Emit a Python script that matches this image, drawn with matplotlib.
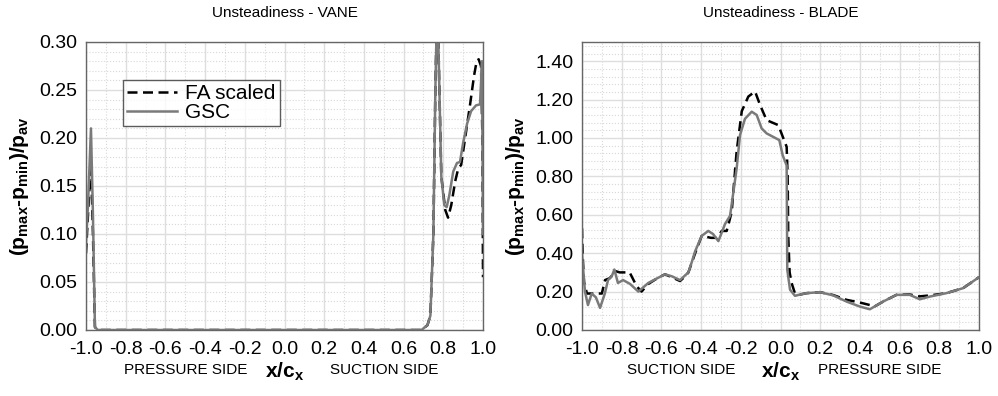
import matplotlib
matplotlib.use("Agg")
import matplotlib.pyplot as plt
from matplotlib.ticker import MultipleLocator

# === data ===
# VANE (left)
vane_gsc_x = [-1.0, -0.99, -0.975, -0.965, -0.955, -0.94, 0.69, 0.72, 0.735, 0.75, 0.76, 0.768,
              0.775, 0.79, 0.805, 0.817, 0.83, 0.85, 0.869, 0.884, 0.9, 0.92, 0.94, 0.965,
              0.985, 0.995, 1.0]
vane_gsc_y = [0.09, 0.13, 0.21, 0.12, 0.003, 0.0, 0.0, 0.005, 0.015, 0.10, 0.25, 0.33,
              0.30, 0.16, 0.13, 0.128, 0.14, 0.165, 0.174, 0.175, 0.195, 0.215, 0.228, 0.234,
              0.235, 0.28, 0.10]
vane_fa_x = [-1.0, -0.99, -0.975, -0.965, -0.955, -0.94, 0.69, 0.72, 0.735, 0.75, 0.76, 0.768,
             0.775, 0.79, 0.81, 0.824, 0.84, 0.86, 0.875, 0.89, 0.91, 0.935, 0.955, 0.968,
             0.978, 0.99, 0.997, 1.0]
vane_fa_y = [0.08, 0.12, 0.175, 0.10, 0.003, 0.0, 0.0, 0.005, 0.015, 0.10, 0.25, 0.33,
             0.30, 0.16, 0.125, 0.117, 0.13, 0.155, 0.168, 0.172, 0.20, 0.235, 0.265, 0.28,
             0.282, 0.275, 0.20, 0.055]

# BLADE (right)
blade_gsc_x = [-1.0, -0.995, -0.985, -0.97, -0.951, -0.93, -0.909, -0.885, -0.869, -0.85,
               -0.837, -0.819, -0.793, -0.758, -0.716, -0.666, -0.62, -0.582, -0.548, -0.506,
               -0.48, -0.464, -0.445, -0.43, -0.397, -0.364, -0.34, -0.313, -0.295, -0.28,
               -0.254, -0.221, -0.204, -0.179, -0.145, -0.12, -0.095, -0.07, -0.006, 0.011,
               0.031, 0.034, 0.048, 0.073, 0.10, 0.132, 0.199, 0.266, 0.333, 0.40, 0.45,
               0.517, 0.584, 0.651, 0.702, 0.752, 0.836, 0.92, 1.0]
blade_gsc_y = [0.40, 0.33, 0.20, 0.13, 0.19, 0.17, 0.115, 0.19, 0.26, 0.28,
               0.315, 0.245, 0.26, 0.24, 0.20, 0.245, 0.27, 0.29, 0.28, 0.26,
               0.285, 0.30, 0.36, 0.41, 0.49, 0.516, 0.50, 0.463, 0.51, 0.551,
               0.595, 0.84, 1.015, 1.10, 1.137, 1.12, 1.05, 1.024, 0.989, 0.91,
               0.857, 0.315, 0.21, 0.178, 0.185, 0.192, 0.197, 0.18, 0.148, 0.122, 0.108,
               0.148, 0.183, 0.183, 0.16, 0.174, 0.192, 0.218, 0.275]
blade_fa_x = [-1.0, -0.997, -0.99, -0.975, -0.95, -0.92, -0.9, -0.884, -0.86, -0.83, -0.81,
              -0.76, -0.724, -0.70, -0.666, -0.62, -0.582, -0.548, -0.506, -0.48, -0.464,
              -0.43, -0.397, -0.35, -0.32, -0.296, -0.271, -0.246, -0.221, -0.195, -0.162,
              -0.128, -0.103, -0.07, -0.011, 0.031, 0.036, 0.039, 0.046, 0.056, 0.073, 0.10,
              0.132, 0.199, 0.266, 0.333, 0.40, 0.45, 0.47, 0.517, 0.584, 0.651, 0.70,
              0.752, 0.836, 0.92, 1.0]
blade_fa_y = [0.53, 0.40, 0.25, 0.19, 0.19, 0.19, 0.19, 0.26, 0.27, 0.306, 0.30,
              0.30, 0.227, 0.20, 0.24, 0.27, 0.29, 0.275, 0.255, 0.28, 0.30,
              0.40, 0.49, 0.48, 0.48, 0.516, 0.516, 0.614, 0.93, 1.14, 1.216,
              1.242, 1.172, 1.093, 1.067, 0.954, 0.80, 0.49, 0.30, 0.245, 0.19, 0.185,
              0.192, 0.197, 0.182, 0.157, 0.143, 0.13, 0.12, 0.148, 0.183, 0.185, 0.175,
              0.18, 0.192, 0.218, 0.275]

x_ticks = [-1.0, -0.8, -0.6, -0.4, -0.2, 0.0, 0.2, 0.4, 0.6, 0.8, 1.0]
blade_y_ticks = [0.0, 0.2, 0.4, 0.6, 0.8, 1.0, 1.2, 1.4]

plt.rcParams['font.family'] = ['Liberation Sans', 'DejaVu Sans']
plt.rcParams['mathtext.fontset'] = 'custom'
plt.rcParams['mathtext.bf'] = 'Liberation Sans:bold'
plt.rcParams['mathtext.rm'] = 'Liberation Sans'

GREY = '#7a7a7a'
YLABEL = r'$\mathbf{(p_{max}}$-$\mathbf{p_{min})/p_{av}}$'

fig = plt.figure(figsize=(9.98, 3.96), dpi=100)
ax1 = fig.add_axes([86/998, 1-330/396, 397/998, 288/396])
ax2 = fig.add_axes([582/998, 1-330/396, 397/998, 288/396])


def style_axes(ax, ymaj, ymin):
	""" grid, spines and tick styling shared by both panels"""
	ax.set_xlim(-1.0, 1.0)
	ax.xaxis.set_major_locator(MultipleLocator(0.2))
	ax.xaxis.set_minor_locator(MultipleLocator(0.1))
	ax.yaxis.set_major_locator(MultipleLocator(ymaj))
	ax.yaxis.set_minor_locator(MultipleLocator(ymin))
	ax.grid(which='major', color='#dedede', linewidth=1.0, linestyle='-')
	ax.grid(which='minor', color='#d8d8d8', linewidth=0.8, linestyle=':')
	ax.set_axisbelow(True)
	for sp in ax.spines.values():
		sp.set_color('#666666')
		sp.set_linewidth(1.0)
	ax.tick_params(which='both', length=0)
	ax.tick_params(axis='y', labelsize=14, pad=6)
	ax.set_xticks(x_ticks)
	ax.set_xticklabels(['%.1f' % t for t in x_ticks], fontsize=14)
	ax.tick_params(axis='x', pad=8)
	ax.yaxis.set_major_formatter('{x:.2f}')
	ax.set_ylabel(YLABEL, fontsize=15, fontweight='bold', labelpad=6)


# --- VANE ---
ax1.plot(vane_fa_x, vane_fa_y, color='black', linestyle=(0, (4, 2.2)), linewidth=1.8, label='FA scaled')
ax1.plot(vane_gsc_x, vane_gsc_y, color=GREY, linewidth=1.8, label='GSC')
ax1.set_ylim(0, 0.30)
style_axes(ax1, 0.05, 0.01)
ax1.set_title('Unsteadiness - VANE', fontsize=11, pad=18)
leg = ax1.legend(loc='upper left', bbox_to_anchor=(0.093, 0.868), borderaxespad=0,
				 fontsize=15, frameon=True, fancybox=False, handlelength=2.4,
				 labelspacing=0.0, borderpad=0.2, handletextpad=0.4)
leg.get_frame().set_edgecolor('#333333')
leg.get_frame().set_linewidth(1.0)

# --- BLADE ---
ax2.plot(blade_fa_x, blade_fa_y, color='black', linestyle=(0, (4, 2.2)), linewidth=1.8)
ax2.plot(blade_gsc_x, blade_gsc_y, color=GREY, linewidth=1.8)
ax2.set_ylim(0, 1.5)
style_axes(ax2, 0.2, 0.04)
ax2.set_yticks(blade_y_ticks)
ax2.set_title('Unsteadiness - BLADE', fontsize=11, pad=18)

# side labels under the axes
for ax, left_txt, right_txt in ((ax1, 'PRESSURE SIDE', 'SUCTION SIDE'), (ax2, 'SUCTION SIDE', 'PRESSURE SIDE')):
	ax.text(0.25, -0.115, left_txt, transform=ax.transAxes, ha='center', va='top', fontsize=11)
	ax.text(0.75, -0.115, right_txt, transform=ax.transAxes, ha='center', va='top', fontsize=11)
	ax.text(0.5, -0.105, r'$\mathbf{x/c_x}$', transform=ax.transAxes, ha='center', va='top', fontsize=15)

fig.savefig('out.png', dpi=100)
